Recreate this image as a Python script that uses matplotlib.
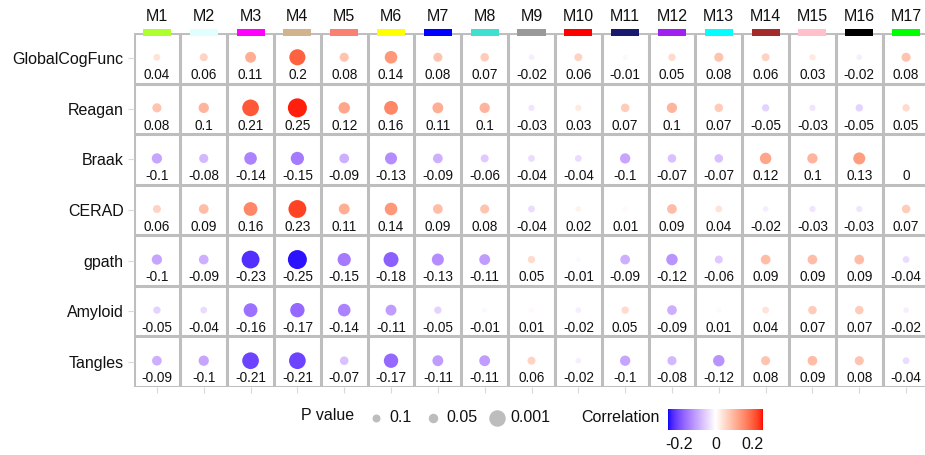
import numpy as np
import matplotlib
matplotlib.use("Agg")
import matplotlib.pyplot as plt
from matplotlib.colors import ListedColormap, Normalize
from matplotlib.cm import ScalarMappable
from matplotlib.patches import Rectangle

plt.rcParams['font.family'] = ['Liberation Sans', 'DejaVu Sans']

# modules (columns) and their WGCNA colours
modules = ["M%d" % i for i in range(1, 18)]
module_colors = ["#ADFF2F", "#E0FFFF", "#FF00FF", "#D2B48C", "#FA8072", "#FFFF00",
                 "#0000FF", "#40E0D0", "#999999", "#FF0000", "#191970", "#A020F0",
                 "#00FFFF", "#A52A2A", "#FFC0CB", "#000000", "#00FF00"]

# traits (rows)
traits = ["GlobalCogFunc", "Reagan", "Braak", "CERAD", "gpath", "Amyloid", "Tangles"]

# correlations, one list per trait
globalcogfunc = [0.04, 0.06, 0.11, 0.2, 0.08, 0.14, 0.08, 0.07, -0.02, 0.06, -0.01, 0.05, 0.08, 0.06, 0.03, -0.02, 0.08]
reagan = [0.08, 0.1, 0.21, 0.25, 0.12, 0.16, 0.11, 0.1, -0.03, 0.03, 0.07, 0.1, 0.07, -0.05, -0.03, -0.05, 0.05]
braak = [-0.1, -0.08, -0.14, -0.15, -0.09, -0.13, -0.09, -0.06, -0.04, -0.04, -0.1, -0.07, -0.07, 0.12, 0.1, 0.13, 0]
cerad = [0.06, 0.09, 0.16, 0.23, 0.11, 0.14, 0.09, 0.08, -0.04, 0.02, 0.01, 0.09, 0.04, -0.02, -0.03, -0.03, 0.07]
gpath = [-0.1, -0.09, -0.23, -0.25, -0.15, -0.18, -0.13, -0.11, 0.05, -0.01, -0.09, -0.12, -0.06, 0.09, 0.09, 0.09, -0.04]
amyloid = [-0.05, -0.04, -0.16, -0.17, -0.14, -0.11, -0.05, -0.01, 0.01, -0.02, 0.05, -0.09, 0.01, 0.04, 0.07, 0.07, -0.02]
tangles = [-0.09, -0.1, -0.21, -0.21, -0.07, -0.17, -0.11, -0.11, 0.06, -0.02, -0.1, -0.08, -0.12, 0.08, 0.09, 0.08, -0.04]

# p value legend entries
p_legend = ["0.1", "0.05", "0.001"]
cbar_ticks = [-0.2, 0, 0.2]

corr = np.array([globalcogfunc, reagan, braak, cerad, gpath, amyloid, tangles])
n_rows, n_cols = corr.shape


def srgb_to_lab(rgb):
    c = np.asarray(rgb, float)
    c = np.where(c <= 0.04045, c / 12.92, ((c + 0.055) / 1.055) ** 2.4)
    M = np.array([[0.4124, 0.3576, 0.1805], [0.2126, 0.7152, 0.0722], [0.0193, 0.1192, 0.9505]])
    xyz = M @ c / np.array([0.95047, 1.0, 1.08883])
    f = np.where(xyz > 0.008856, np.cbrt(xyz), 7.787 * xyz + 16 / 116)
    return np.array([116 * f[1] - 16, 500 * (f[0] - f[1]), 200 * (f[1] - f[2])])


def lab_to_srgb(lab):
    L, a, b = lab
    fy = (L + 16) / 116
    fx = fy + a / 500
    fz = fy - b / 200
    f = np.array([fx, fy, fz])
    xyz = np.where(f ** 3 > 0.008856, f ** 3, (f - 16 / 116) / 7.787) * np.array([0.95047, 1.0, 1.08883])
    Minv = np.array([[3.2406, -1.5372, -0.4986], [-0.9689, 1.8758, 0.0415], [0.0557, -0.2040, 1.0570]])
    c = Minv @ xyz
    c = np.where(c <= 0.0031308, 12.92 * c, 1.055 * np.clip(c, 0, None) ** (1 / 2.4) - 0.055)
    return np.clip(c, 0, 1)


# gradient2 style scale (blue - white - red) interpolated in Lab
lab_low, lab_mid, lab_high = srgb_to_lab([0, 0, 1]), srgb_to_lab([1, 1, 1]), srgb_to_lab([1, 0, 0])
steps = np.linspace(0, 1, 128)
cols = [lab_to_srgb(lab_low + (lab_mid - lab_low) * t) for t in steps]
cols += [lab_to_srgb(lab_mid + (lab_high - lab_mid) * t) for t in steps]
cmap = ListedColormap(cols)
norm = Normalize(vmin=-0.26, vmax=0.26)

W, H = 925, 455
fig = plt.figure(figsize=(W / 100, H / 100), dpi=100)
grid_col = "#bebebe"
txt_col = "#111111"

# main grid, placed in pixel units
gl, gr, gt, gb = 133.5, 929.5, 33, 387
ax = fig.add_axes([gl / W, 1 - gb / H, (gr - gl) / W, (gb - gt) / H])
ax.set_xlim(-0.5, n_cols - 0.5)
ax.set_ylim(n_rows - 0.5, -0.5)
for s in ax.spines.values():
    s.set_visible(False)

for i in range(n_rows + 1):
    ax.axhline(i - 0.5, color=grid_col, lw=2.2, zorder=1)
for j in range(n_cols + 1):
    ax.axvline(j - 0.5, color=grid_col, lw=2.2, zorder=1)

xx, yy = np.meshgrid(np.arange(n_cols), np.arange(n_rows))
diam_px = 4.5 + 58 * np.abs(corr)
ax.scatter(xx.ravel(), yy.ravel() - 0.02, s=(diam_px.ravel() * 0.72) ** 2,
           c=corr.ravel(), cmap=cmap, norm=norm, linewidths=0, zorder=3)

for i in range(n_rows):
    for j in range(n_cols):
        ax.text(j, i + 0.33, f"{corr[i, j]:g}", ha="center", va="center",
                fontsize=9.8, color=txt_col, zorder=4)

# module header labels and colour bars
for j, (m, c) in enumerate(zip(modules, module_colors)):
    ax.text(j, -0.82, m, ha="center", va="center", fontsize=11.5, color=txt_col,
            clip_on=False)
    ax.add_patch(Rectangle((j - 0.3, -0.58), 0.6, 0.14, facecolor=c, edgecolor="none",
                           clip_on=False, zorder=5))

ax.set_yticks(range(n_rows))
ax.set_yticklabels(traits, fontsize=11.5, color=txt_col)
ax.set_xticks(range(n_cols))
ax.set_xticklabels([""] * n_cols)
ax.tick_params(axis="both", length=4, width=0.8, color="#d9d9d9", pad=3)

# legend overlay in pixel coordinates
lg = fig.add_axes([0, 0, 1, 1], facecolor="none")
lg.set_xlim(0, W)
lg.set_ylim(H, 0)
lg.axis("off")
lg.text(301, 416, "P value", fontsize=11.5, va="center", ha="left", color=txt_col)
leg_x = [376, 433, 497]
leg_d = [8, 9.5, 16.5]
for x, d, lab in zip(leg_x, leg_d, p_legend):
    lg.scatter([x], [418], s=(d * 0.72) ** 2, color="#bdbdbd", linewidths=0)
    lg.text(x + 13, 417, lab, fontsize=11.5, va="center", ha="left", color=txt_col)
lg.text(581, 418, "Correlation", fontsize=11.5, va="center", ha="left", color=txt_col)

cax = fig.add_axes([668 / W, 1 - 430 / H, 95 / W, 21 / H])
cb = fig.colorbar(ScalarMappable(norm=norm, cmap=cmap), cax=cax, orientation="horizontal",
                  ticks=cbar_ticks)
cb.outline.set_visible(False)
cb.ax.set_xticklabels([f"{t:g}" for t in cbar_ticks])
cb.ax.tick_params(length=0, labelsize=11.5, pad=5, colors=txt_col)

fig.savefig("out.png", dpi=100)
